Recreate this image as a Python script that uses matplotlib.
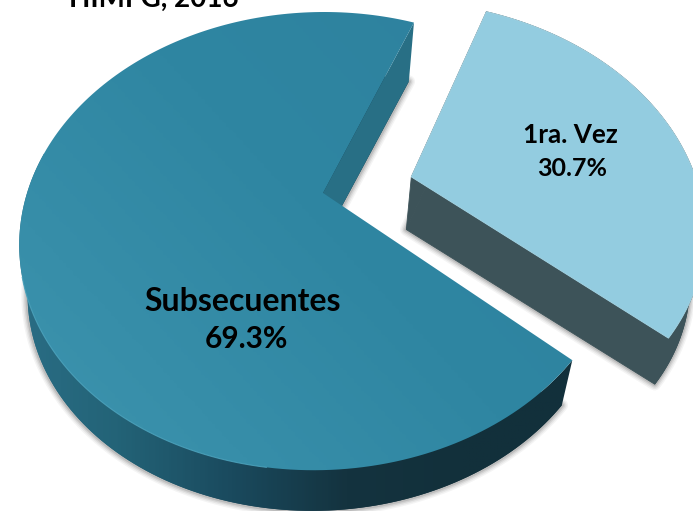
import numpy as np
from matplotlib import pyplot as plt
from matplotlib.patches import Polygon
from matplotlib.colors import LinearSegmentedColormap

categories = ["Subsecuentes", "1ra. Vez"]
values = [69.3, 30.7]
explode = [0.0, 0.315]
title = "HIMFG, 2016"

start_angle = 69.0
k = 0.21  # perspective of the disc
m = 0.01
s = 0.015


def project(u, v, cx, cy, a, b):
    w = 1 + k * v + m * u
    return np.column_stack([cx + a * (u + s * v) / w, cy - b * v / w])


def top(u, v):
    return project(u, v, 323, 193, 293, 219)


def low(u, v):
    return project(u, v, 321, 245, 283, 210)


def slice_uv(theta1, theta2, off):
    mid = np.radians((theta1 + theta2) / 2)
    ox, oy = off * np.cos(mid), off * np.sin(mid)
    t = np.radians(np.linspace(theta1, theta2, 200))
    return ox, oy, ox + np.cos(t), oy + np.sin(t)


def gradient(ax, poly, colors, angle=0.0):
    cmap = LinearSegmentedColormap.from_list("g", colors)
    gx, gy = np.meshgrid(np.linspace(0, 1, 200), np.linspace(0, 1, 200))
    img = np.cos(angle) * gx + np.sin(angle) * gy
    im = ax.imshow(img, cmap=cmap, extent=[0, 693, 511, 0], aspect="auto", zorder=poly.get_zorder())
    ax.add_patch(poly)
    poly.set_visible(False)
    im.set_clip_path(poly)
    return im


def shadow(ax, pts, z):
    for lw, al in zip([9, 7, 5, 3], [0.05, 0.07, 0.1, 0.14]):
        ax.add_patch(Polygon(pts, closed=True, fill=False, ec="#303030", lw=lw, alpha=al, zorder=z, joinstyle="round"))


fig = plt.figure(figsize=(6.93, 5.11), dpi=100)
ax = fig.add_axes([0, 0, 1, 1])

sweeps = np.array(values) / sum(values) * 360
starts = start_angle + np.concatenate([[0], np.cumsum(sweeps)[:-1]])

# small slice
th1, th2 = starts[1], starts[1] + sweeps[1]
ox, oy, u, v = slice_uv(th1, th2, explode[1])
t_arc, l_arc = top(u, v), low(u, v)
t_ap, l_ap = top(np.array([ox]), np.array([oy])), low(np.array([ox]), np.array([oy]))
shadow(ax, np.vstack([l_ap, l_arc]), 1)
for pts in [np.vstack([l_ap, l_arc]), np.vstack([t_arc, l_arc[::-1]]), np.vstack([t_ap, t_arc[-1:], l_arc[-1:], l_ap])]:
    ax.add_patch(Polygon(pts, closed=True, fc="#3d5359", ec="#3d5359", lw=0.6, zorder=2))
ax.add_patch(Polygon(np.vstack([t_ap, t_arc]), closed=True, fc="#93cce0", ec="#a6d6e6", lw=0.6, zorder=3))

# big slice
th1, th2 = starts[0], starts[0] + sweeps[0]
ox, oy, u, v = slice_uv(th1, th2, explode[0])
t_arc, l_arc = top(u, v), low(u, v)
t_ap, l_ap = top(np.array([ox]), np.array([oy])), low(np.array([ox]), np.array([oy]))
shadow(ax, np.vstack([l_ap, l_arc]), 4)
wall_cols = ["#2b6f87", "#236377", "#1a4a5e", "#14333f", "#12303b", "#12303b", "#12303b"]
gradient(ax, Polygon(np.vstack([l_ap, l_arc]), closed=True, zorder=5), wall_cols)
gradient(ax, Polygon(np.vstack([t_arc[80:], l_arc[80:][::-1]]), closed=True, zorder=5), wall_cols)
ax.add_patch(Polygon(np.vstack([t_ap, t_arc[0], l_arc[0], l_ap]), closed=True, fc="#286f85", ec="none", zorder=6))
gradient(ax, Polygon(np.vstack([t_ap, t_arc]), closed=True, zorder=8), ["#3f96b0", "#2f86a2", "#2d7f9c"], angle=-0.6)
ax.plot(t_arc[105:155, 0], t_arc[105:155, 1], color="#4fa6c0", lw=0.8, alpha=0.8, zorder=9)

ax.text(154, 7, title, fontsize=20, fontweight="bold", family="Lato", ha="center", va="baseline", zorder=10)
ax.text(243, 311, categories[0], fontsize=23, fontweight="bold", family="Lato", ha="center", va="baseline", zorder=10)
ax.text(246, 348, f"{values[0]}%", fontsize=21.5, fontweight="bold", family="Lato", ha="center", va="baseline", zorder=10)
ax.text(570, 143, categories[1], fontsize=18.8, fontweight="bold", family="Lato", ha="center", va="baseline", zorder=10)
ax.text(572, 176, f"{values[1]}%", fontsize=18, fontweight="bold", family="Lato", ha="center", va="baseline", zorder=10)

ax.set_xlim(0, 693)
ax.set_ylim(511, 0)
ax.axis("off")
fig.savefig("out.png", dpi=100)
